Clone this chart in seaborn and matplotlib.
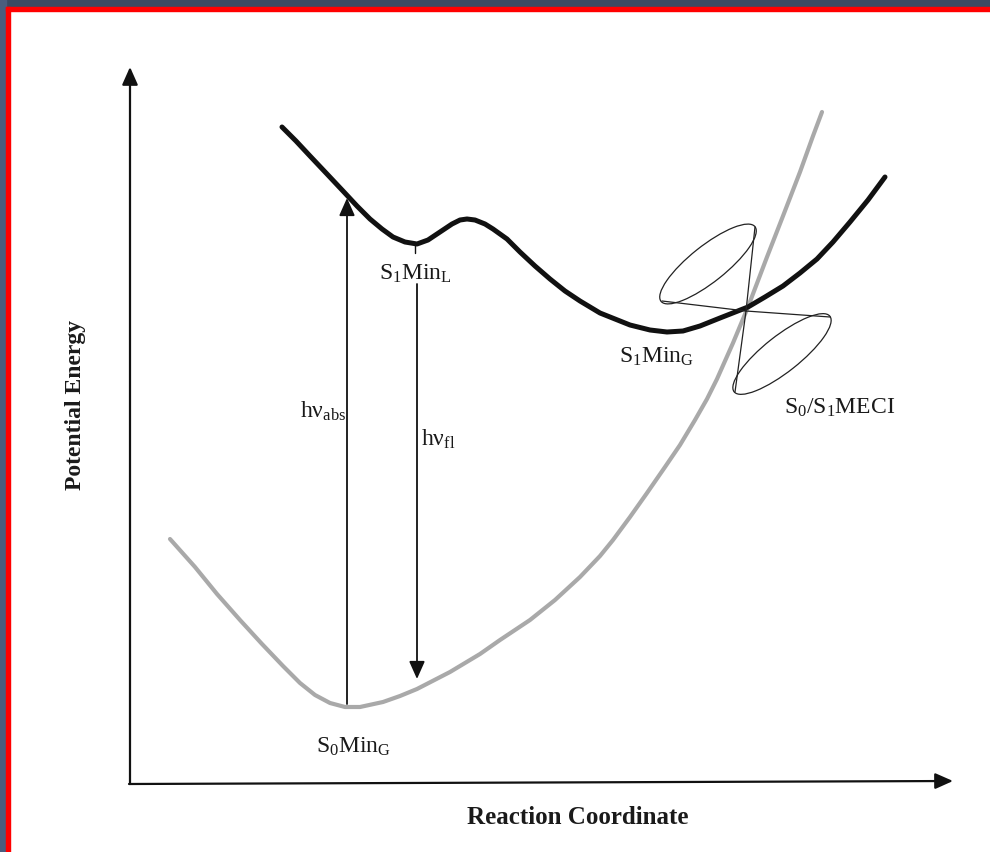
import pandas as pd
import matplotlib.pyplot as plt
import seaborn as sns
from matplotlib.patches import Ellipse, Rectangle

# ground state S0 curve (reaction coordinate, energy), pixel units
s0_x = [170, 195, 217, 240, 262, 283, 300, 315, 330, 345, 360, 383, 400, 417, 450, 480,
        500, 530, 555, 580, 600, 613, 630, 647, 665, 680, 695, 707, 717, 733, 748, 767,
        783, 800, 813, 822]
s0_y = [540, 568, 595, 621, 645, 667, 684, 696, 704, 708, 708, 703, 697, 690, 673, 655,
        641, 621, 601, 578, 557, 541, 518, 494, 468, 446, 421, 400, 380, 344, 308, 258,
        217, 173, 137, 113]

# excited state S1 curve
s1_x = [282, 296, 310, 327, 343, 357, 370, 382, 393, 405, 417, 428, 440, 452, 460, 467,
        475, 485, 493, 507, 520, 535, 550, 565, 580, 600, 615, 630, 650, 667, 683, 700,
        720, 748, 765, 783, 800, 817, 833, 850, 868, 885]
s1_y = [128, 142, 157, 175, 192, 207, 220, 230, 238, 243, 245, 241, 233, 225, 221, 220,
        221, 225, 230, 240, 253, 267, 280, 292, 302, 314, 320, 326, 331, 333, 332, 327,
        319, 308, 298, 287, 274, 260, 243, 223, 201, 178]

# conical intersection: apex and the two cone rims (centre x, centre y, length, width, angle)
meci = (746, 312)
cone_cx = [708, 782]
cone_cy = [265, 355]
cone_len = [120, 122]
cone_wid = [36, 36]
cone_ang = [-38.5, -38.3]
cone_tips = [[(662, 302), (755, 228)], [(830, 318), (735, 393)]]

# vertical transitions: x, start y, end y
abs_arrow = (347, 705, 199)
fl_arrow = (417, 285, 680)

labels = [
    ("S$_1$Min$_\\mathrm{L}$", 415, 274, "center"),
    ("S$_1$Min$_\\mathrm{G}$", 657, 357, "center"),
    ("S$_0$/S$_1$MECI", 840, 408, "center"),
    ("S$_0$Min$_\\mathrm{G}$", 354, 747, "center"),
    ("h\u03bd$_{\\mathrm{abs}}$", 346, 411, "right"),
    ("h\u03bd$_{\\mathrm{fl}}$", 421, 439, "left"),
]

sns.set_style("white")
plt.rcParams['font.family'] = ['Liberation Serif', 'DejaVu Serif']
plt.rcParams['mathtext.fontset'] = 'custom'
plt.rcParams['mathtext.rm'] = 'Liberation Serif'
plt.rcParams['mathtext.it'] = 'Liberation Serif:italic'

fig = plt.figure(figsize=(9.9, 8.53), dpi=100)
ax = fig.add_axes([0, 0, 1, 1])
ax.set_xlim(0, 990)
ax.set_ylim(853, 0)
ax.axis('off')

s0 = pd.DataFrame({'x': s0_x, 'y': s0_y})
s1 = pd.DataFrame({'x': s1_x, 'y': s1_y})
sns.lineplot(data=s0, x='x', y='y', sort=False, color='#a9a9a9', lw=3.0, ax=ax)
sns.lineplot(data=s1, x='x', y='y', sort=False, color='#111111', lw=3.6, ax=ax)

# cones
for cx, cy, L, W, a, tips in zip(cone_cx, cone_cy, cone_len, cone_wid, cone_ang, cone_tips):
    ax.add_patch(Ellipse((cx, cy), L, W, angle=a, fill=False, lw=0.9, ec='#222222'))
    for tx, ty in tips:
        ax.plot([meci[0], tx], [meci[1], ty], color='#222222', lw=0.9)

# axes arrows
head = dict(arrowstyle='-|>,head_length=0.9,head_width=0.4', mutation_scale=12,
            color='#111111', lw=1.6, shrinkA=0, shrinkB=0)
ax.annotate('', xy=(130, 68), xytext=(130, 785), arrowprops=head)
ax.annotate('', xy=(953, 782), xytext=(129, 785), arrowprops=head)

# transitions
thin = dict(head, lw=1.3)
ax.annotate('', xy=(abs_arrow[0], abs_arrow[2]), xytext=(abs_arrow[0], abs_arrow[1]), arrowprops=thin)
ax.annotate('', xy=(fl_arrow[0], fl_arrow[2]), xytext=(fl_arrow[0], fl_arrow[1]), arrowprops=thin)
ax.plot([415, 415], [246, 254], color='#111111', lw=1.0)

for txt, x, y, ha in labels:
    ax.text(x, y, txt, fontsize=17, ha=ha, va='center', color='#1a1a1a')

ax.text(75, 405, "Potential Energy", fontsize=17, fontweight='bold', rotation=90,
        ha='center', va='center', color='#1a1a1a')
ax.text(578, 818, "Reaction Coordinate", fontsize=18, fontweight='bold',
        ha='center', va='center', color='#1a1a1a')

# scanned page frame
ax.add_patch(Rectangle((0, 0), 990, 8, color='#3b4a62', clip_on=False))
ax.add_patch(Rectangle((0, 0), 6, 853, color='#4a5d7e', clip_on=False))
ax.add_patch(Rectangle((6, 8), 984, 4, color='#ff0000', clip_on=False))
ax.add_patch(Rectangle((6, 8), 4, 845, color='#ff0000', clip_on=False))

plt.savefig('out.png', dpi=100)
